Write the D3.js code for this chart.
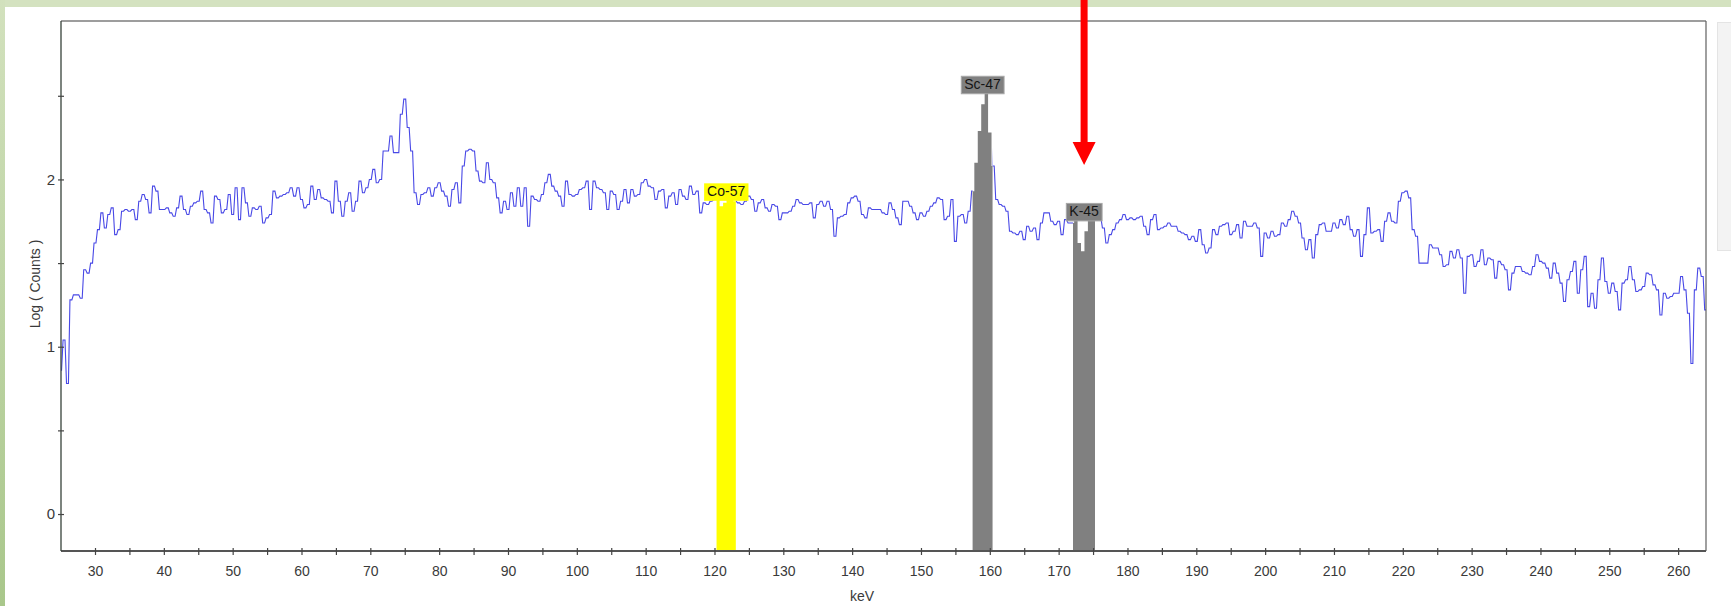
<!DOCTYPE html>
<html><head><meta charset="utf-8">
<script src="https://cdn.jsdelivr.net/npm/d3@7"></script>
<style>html,body{margin:0;padding:0;background:#fff;overflow:hidden}svg{display:block}</style>
</head><body>
<svg id="chart" width="1731" height="606"></svg>
<script>
// ---- data ----
const energyStart = 25.0;   // keV of first channel
const energyStep = 0.5;     // keV per channel
const logCounts = [
  0.86,1.04,0.78,1.28,1.31,1.31,1.29,1.46,1.44,1.50,1.62,1.70,1.80,1.71,1.79,1.83,1.67,1.70,1.81,1.82, // 25
  1.81,1.82,1.76,1.87,1.91,1.88,1.80,1.96,1.93,1.82,1.82,1.83,1.80,1.78,1.83,1.90,1.82,1.79,1.84,1.86, // 35
  1.87,1.93,1.82,1.80,1.74,1.90,1.88,1.80,1.82,1.91,1.79,1.95,1.76,1.95,1.86,1.78,1.83,1.82,1.84,1.74, // 45
  1.77,1.79,1.93,1.89,1.90,1.91,1.92,1.95,1.90,1.95,1.88,1.83,1.85,1.96,1.88,1.94,1.89,1.88,1.87,1.80, // 55
  1.99,1.87,1.78,1.87,1.92,1.81,1.87,1.99,1.92,1.95,2.00,2.06,1.98,2.00,2.17,2.17,2.26,2.16,2.16,2.39, // 65
  2.48,2.31,2.17,1.92,1.85,1.91,1.92,1.95,1.90,1.95,1.98,1.93,1.90,1.84,1.94,1.98,1.86,2.08,2.17,2.18, // 75
  2.17,2.05,1.99,1.98,2.10,2.00,1.98,1.89,1.80,1.87,1.82,1.92,1.84,1.95,1.84,1.95,1.72,1.90,1.88,1.87, // 85
  1.91,1.98,2.03,1.96,1.93,1.90,1.84,1.99,1.91,1.90,1.91,1.94,1.95,1.99,1.82,1.99,1.95,1.94,1.92,1.82, // 95
  1.93,1.91,1.82,1.87,1.94,1.86,1.94,1.90,1.91,1.98,2.00,1.96,1.95,1.88,1.93,1.94,1.83,1.90,1.92,1.85, // 105
  1.94,1.90,1.88,1.96,1.91,1.93,1.80,1.86,1.85,1.87,1.88,1.89,1.84,1.86,1.89,1.88,1.87,1.86,1.85,1.87, // 115
  1.90,1.88,1.81,1.86,1.88,1.83,1.81,1.85,1.84,1.76,1.80,1.80,1.81,1.84,1.88,1.86,1.85,1.85,1.86,1.77, // 125
  1.85,1.87,1.84,1.87,1.82,1.66,1.77,1.78,1.79,1.86,1.89,1.90,1.87,1.79,1.77,1.83,1.82,1.82,1.82,1.80, // 135
  1.79,1.86,1.82,1.77,1.73,1.87,1.87,1.84,1.80,1.76,1.80,1.78,1.81,1.84,1.86,1.89,1.88,1.76,1.78,1.88, // 145
  1.63,1.78,1.79,1.74,1.81,1.93,2.10,2.29,2.45,2.53,2.28,2.08,1.88,1.85,1.84,1.81,1.69,1.68,1.67,1.69, // 155
  1.64,1.72,1.69,1.71,1.64,1.74,1.80,1.80,1.75,1.73,1.75,1.67,1.76,1.74,1.74,1.77,1.62,1.57,1.69,1.77, // 165
  1.77,1.76,1.77,1.71,1.62,1.67,1.70,1.74,1.76,1.79,1.76,1.77,1.76,1.77,1.78,1.72,1.67,1.76,1.79,1.70, // 175
  1.71,1.72,1.74,1.72,1.72,1.69,1.68,1.67,1.64,1.66,1.63,1.70,1.61,1.56,1.59,1.70,1.67,1.72,1.73,1.74, // 185
  1.67,1.69,1.73,1.65,1.75,1.72,1.72,1.74,1.71,1.54,1.68,1.65,1.69,1.66,1.67,1.74,1.72,1.76,1.81,1.78, // 195
  1.74,1.65,1.58,1.64,1.53,1.67,1.73,1.74,1.69,1.69,1.74,1.71,1.76,1.73,1.78,1.70,1.66,1.70,1.54,1.67, // 205
  1.83,1.68,1.69,1.70,1.63,1.75,1.80,1.75,1.74,1.87,1.92,1.93,1.89,1.70,1.66,1.50,1.50,1.50,1.61,1.59, // 215
  1.59,1.55,1.48,1.49,1.57,1.53,1.58,1.53,1.32,1.54,1.55,1.48,1.51,1.58,1.49,1.53,1.52,1.41,1.51,1.49, // 225
  1.46,1.34,1.44,1.48,1.48,1.45,1.44,1.43,1.48,1.55,1.51,1.50,1.47,1.41,1.50,1.44,1.38,1.27,1.40,1.45, // 235
  1.51,1.32,1.46,1.54,1.24,1.32,1.23,1.40,1.53,1.39,1.32,1.38,1.33,1.22,1.38,1.40,1.48,1.40,1.33,1.34, // 245
  1.36,1.44,1.43,1.37,1.34,1.19,1.32,1.29,1.30,1.32,1.32,1.42,1.34,1.20,0.90,1.34,1.47,1.42,1.22      // 255
];
const roiNames  = ["Co-57", "Sc-47", "K-45"];
const roiLow    = [120.3, 157.5, 172.1];
const roiHigh   = [123.1, 160.4, 175.3];
const roiColors = ["#ffff00", "#808080", "#808080"];
const xTickMajor = [30,40,50,60,70,80,90,100,110,120,130,140,150,160,170,180,190,200,210,220,230,240,250,260];
const yTickMajor = [0, 1, 2];
const yTickMinor = [0.5, 1.5, 2.5];
const xDomain = [25.06, 264.05];
const yDomain = [-0.221, 2.947];
const xTitle = "keV";
const yTitle = "Log ( Counts )";
const arrowRoi = "K-45";

// ---- layout ----
const W = 1731, H = 606;
const plot = {left: 61, right: 1706, top: 21, bottom: 551};
const FONT = "'Liberation Sans', Arial, sans-serif";
const svg = d3.select("#chart");
const defs = svg.append("defs");

// page frame
const grad = defs.append("linearGradient").attr("id","leftStrip").attr("x1",0).attr("y1",0).attr("x2",0).attr("y2",1);
grad.append("stop").attr("offset","0%").attr("stop-color","#d2e1bd");
grad.append("stop").attr("offset","100%").attr("stop-color","#a9c78b");
svg.append("rect").attr("x",0).attr("y",0).attr("width",W).attr("height",H).attr("fill","#ffffff");
svg.append("rect").attr("x",0).attr("y",0).attr("width",W).attr("height",7).attr("fill","#d4e2c0");
svg.append("rect").attr("x",0).attr("y",0).attr("width",5).attr("height",H).attr("fill","url(#leftStrip)");
// side panel remnant at right edge
svg.append("rect").attr("x",1717.5).attr("y",22.5).attr("width",14).attr("height",228).attr("fill","#f3f3f3").attr("stroke","#e4e4e4");

const x = d3.scaleLinear().domain(xDomain).range([plot.left, plot.right]);
const y = d3.scaleLinear().domain(yDomain).range([plot.bottom, plot.top]);

const spectrum = logCounts.map((v,i) => ({e: energyStart + i*energyStep, v}));

defs.append("clipPath").attr("id","plotClip").append("rect")
  .attr("x",plot.left).attr("y",plot.top).attr("width",plot.right-plot.left).attr("height",plot.bottom-plot.top);

// mask hiding the spectrum line inside ROIs
const mask = defs.append("mask").attr("id","roiMask").attr("maskUnits","userSpaceOnUse")
  .attr("x",0).attr("y",0).attr("width",W).attr("height",H);
mask.append("rect").attr("x",0).attr("y",0).attr("width",W).attr("height",H).attr("fill","#fff");
roiNames.forEach((name,i)=>{
  mask.append("rect").attr("x",x(roiLow[i])).attr("y",0).attr("width",x(roiHigh[i])-x(roiLow[i])).attr("height",H).attr("fill","#000");
});

const g = svg.append("g").attr("clip-path","url(#plotClip)");

// channel curve: short flat top per channel, slanted risers between channels
const half = 0.28 * (x(energyStep) - x(0));
function curveChannel(context) {
  let first = true;
  return {
    areaStart(){}, areaEnd(){},
    lineStart(){ first = true; },
    lineEnd(){},
    point(px, py){
      if (first) { context.moveTo(px - half, py); first = false; }
      else context.lineTo(px - half, py);
      context.lineTo(px + half, py);
    }
  };
}
const line = d3.line().x(d=>x(d.e)).y(d=>y(d.v)).curve(curveChannel);
g.append("g").attr("mask","url(#roiMask)").append("path").datum(spectrum).attr("d",line)
  .attr("fill","none").attr("stroke","#4848e6").attr("stroke-width",1.1).attr("stroke-linejoin","miter");

// ROI fills (channel histogram under the curve)
const area = d3.area().x(d=>x(d.e)).y0(y(yDomain[0])).y1(d=>y(d.v)).curve(d3.curveStep);
roiNames.forEach((name,i)=>{
  const id = "roi"+i;
  defs.append("clipPath").attr("id",id).append("rect")
    .attr("x",x(roiLow[i])).attr("y",plot.top).attr("width",x(roiHigh[i])-x(roiLow[i])).attr("height",plot.bottom-plot.top);
  g.append("path").datum(spectrum).attr("d",area).attr("clip-path",`url(#${id})`).attr("fill",roiColors[i]);
});

// ROI labels
roiNames.forEach((name,i)=>{
  const inRoi = spectrum.filter(d=>d.e>=roiLow[i]-0.25 && d.e<=roiHigh[i]+0.25);
  const vmax = d3.max(inRoi,d=>d.v);
  const cx = x((roiLow[i]+roiHigh[i])/2);
  const bottom = y(vmax) + 3;
  const t = svg.append("text").attr("x",cx).attr("y",bottom-4.5).attr("text-anchor","middle")
    .attr("font-family",FONT).attr("font-size",14).attr("fill","#151515").text(name);
  const bb = t.node().getBBox();
  svg.insert("rect", () => t.node())
    .attr("x",bb.x-3).attr("y",bottom-17.5).attr("width",bb.width+6).attr("height",17.5)
    .attr("fill",roiColors[i]).attr("stroke", roiColors[i]==="#ffff00" ? "none" : "#a8a8a8").attr("stroke-width",1);
});

// frame lines
svg.append("line").attr("x1",plot.left).attr("x2",plot.right).attr("y1",plot.top).attr("y2",plot.top)
  .attr("stroke","#7c7c7c").attr("stroke-width",1.6);
svg.append("line").attr("x1",plot.right).attr("x2",plot.right).attr("y1",plot.top).attr("y2",plot.bottom)
  .attr("stroke","#606060").attr("stroke-width",1.2);

// x axis
const xMinor = d3.range(30, 262, 5);
const xAxis = d3.axisBottom(x).tickValues(xMinor).tickSize(4).tickPadding(11)
  .tickFormat(d => xTickMajor.includes(d) ? String(d) : "");
const gx = svg.append("g").attr("transform",`translate(0,${plot.bottom})`).call(xAxis);
gx.select(".domain").attr("d",`M${plot.left},0H${plot.right}`).attr("stroke","#555").attr("stroke-width",2.2);
gx.selectAll(".tick line").attr("y1",-3).attr("y2",4).attr("stroke","#444").attr("stroke-width",1.2);
gx.selectAll(".tick text").attr("font-family",FONT).attr("font-size",14).attr("fill","#3a3a3a");

// y axis
const yAxis = d3.axisLeft(y).tickValues([...yTickMajor, ...yTickMinor]).tickSize(3).tickPadding(3)
  .tickFormat(d => yTickMajor.includes(d) ? String(d) : "");
const gy = svg.append("g").attr("transform",`translate(${plot.left},0)`).call(yAxis);
gy.select(".domain").attr("d",`M0,${plot.top}V${plot.bottom}`).attr("stroke","#36423a").attr("stroke-width",1.3);
gy.selectAll(".tick line").attr("x1",-3).attr("x2",3).attr("stroke","#444").attr("stroke-width",1.2);
gy.selectAll(".tick text").attr("font-family",FONT).attr("font-size",15).attr("fill","#3a3a3a");

// titles
svg.append("text").attr("x",862).attr("y",601).attr("text-anchor","middle")
  .attr("font-family",FONT).attr("font-size",14).attr("fill","#3a3a3a").text(xTitle);
svg.append("text").attr("transform","translate(40,284) rotate(-90)").attr("text-anchor","middle")
  .attr("font-family",FONT).attr("font-size",14).attr("fill","#3a3a3a").text(yTitle);

// red arrow pointing at the K-45 region
const ai = roiNames.indexOf(arrowRoi);
const ax = x((roiLow[ai]+roiHigh[ai])/2);
svg.append("path")
  .attr("d",`M${ax-3.5},0V142H${ax-11.5}L${ax},165L${ax+11.5},142H${ax+3.5}V0Z`)
  .attr("fill","#ff0000");
</script>
</body></html>
